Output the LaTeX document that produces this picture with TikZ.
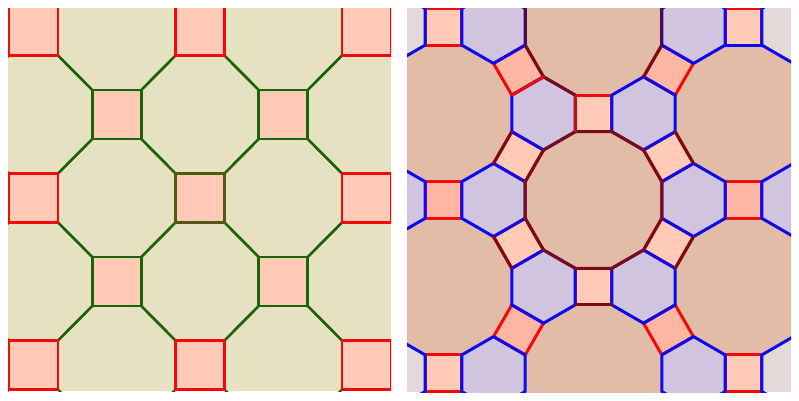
\documentclass[tikz,border=0pt]{standalone}
\usepackage{tikz}
\definecolor{beigeC}{HTML}{E5E1C1}
\definecolor{sqC}{HTML}{FFCAB6}
\definecolor{sqD}{HTML}{FFB6A3}
\definecolor{dodC}{HTML}{E2BCA6}
\definecolor{hexC}{HTML}{D0C4DE}
\definecolor{bgC}{HTML}{E3D9D9}
\definecolor{grn}{HTML}{1A640A}
\definecolor{olv}{HTML}{4E5A10}
\definecolor{redC}{HTML}{F00A0A}
\definecolor{bluC}{HTML}{0A0AF0}
\definecolor{marC}{HTML}{7A0A14}
\definecolor{purC}{HTML}{4A0A4A}
\newcommand{\mydod}[3][]{\path[#1,shift={(#2,#3)}] (15:70.71) \foreach \k in {1,...,11}{ -- ({15+30*\k}:70.71)} -- cycle;}
\newcommand{\myhex}[3][]{\path[#1,shift={(#2,#3)}] (30:36.6) \foreach \k in {1,...,5}{ -- ({30+60*\k}:36.6)} -- cycle;}
\newcommand{\mysq}[4][]{\path[#1,shift={(#2,#3)}] (#4:25.88) -- ({#4+90}:25.88) -- ({#4+180}:25.88) -- ({#4+270}:25.88) -- cycle;}
\tikzset{
  diagline/.style={draw=grn,line width=2.4pt},
  sqline/.style={draw=redC,line width=3pt,line join=round},
  hexline/.style={draw=bluC,line width=3pt,line join=round},
  marline/.style={draw=marC,line width=3pt,line join=round,line cap=round},
  ovr/.style={line width=3pt,line cap=round}
}
\begin{document}
\begin{tikzpicture}[x=1pt,y=-1pt]
\useasboundingbox (0,0) rectangle (799,400);
\fill[white] (0,0) rectangle (799,400);
% ---------------- left panel: 4.8.8 ----------------
\begin{scope}
\clip (8,8) rectangle (391,391);
\fill[beigeC] (8,8) rectangle (391,391);
\foreach \i/\j in {0/0,2/0,4/0,1/1,3/1,0/2,2/2,4/2,1/3,3/3,0/4,2/4,4/4}{
  \pgfmathsetmacro\cx{33.5+83.25*\i}
  \pgfmathsetmacro\cy{31+83.5*\j}
  \draw[diagline] (\cx+24.5,\cy+24.5) -- ++(34.25,34.5);
  \draw[diagline] (\cx-24.5,\cy+24.5) -- ++(-34.25,34.5);
  \draw[diagline] (\cx+24.5,\cy-24.5) -- ++(34.25,-34.5);
  \draw[diagline] (\cx-24.5,\cy-24.5) -- ++(-34.25,-34.5);
}
\foreach \i/\j/\c in {0/0/redC,2/0/redC,4/0/redC,0/2/redC,4/2/redC,0/4/redC,2/4/redC,4/4/redC,1/1/grn,3/1/grn,1/3/grn,3/3/grn,2/2/olv}{
  \pgfmathsetmacro\cx{33.5+83.25*\i}
  \pgfmathsetmacro\cy{31+83.5*\j}
  \filldraw[fill=sqC,draw=\c,line width=2.7pt] (\cx-24.5,\cy-24.5) rectangle (\cx+24.5,\cy+24.5);
}
\end{scope}
% ---------------- right panel: 4.6.12 ----------------
\begin{scope}
\clip (407,8) rectangle (791,392);
\fill[bgC] (407,8) rectangle (791,392);
% fills
\foreach \x/\y in {593.5/200,593.5/26.8,593.5/373.2,743.5/113.4,743.5/286.6,443.5/113.4,443.5/286.6}{\mydod[fill=dodC]{\x}{\y}}
\foreach \x/\y in {493.5/26.8,693.5/26.8,543.5/113.4,643.5/113.4,393.5/200,493.5/200,693.5/200,793.5/200,543.5/286.6,643.5/286.6,493.5/373.2,693.5/373.2}{\myhex[fill=hexC]{\x}{\y}}
\foreach \x/\y/\a in {593.5/113.4/45,593.5/286.6/45,443.5/26.8/45,743.5/26.8/45,443.5/373.2/45,743.5/373.2/45,668.5/156.7/15,518.5/156.7/75,668.5/243.3/75,518.5/243.3/15}{\mysq[fill=sqC]{\x}{\y}{\a}}
\foreach \x/\y/\a in {743.5/200/45,443.5/200/45,668.5/70.1/75,518.5/70.1/15,668.5/329.9/15,518.5/329.9/75}{\mysq[fill=sqD]{\x}{\y}{\a}}
% square outlines
\foreach \x/\y/\a in {593.5/113.4/45,593.5/286.6/45,443.5/26.8/45,743.5/26.8/45,443.5/373.2/45,743.5/373.2/45,668.5/156.7/15,518.5/156.7/75,668.5/243.3/75,518.5/243.3/15,743.5/200/45,443.5/200/45,668.5/70.1/75,518.5/70.1/15,668.5/329.9/15,518.5/329.9/75}{\mysq[sqline]{\x}{\y}{\a}}
% hexagon outlines
\foreach \x/\y in {493.5/26.8,693.5/26.8,543.5/113.4,643.5/113.4,393.5/200,493.5/200,693.5/200,793.5/200,543.5/286.6,643.5/286.6,493.5/373.2,693.5/373.2,393.5/26.8,793.5/26.8,393.5/373.2,793.5/373.2}{\myhex[hexline]{\x}{\y}}
% central dodecagon
\mydod[marline]{593.5}{200}
% individual edges
\draw[ovr,marC] (511.8,131.7) -- (493.5,163.4);
\draw[ovr,marC] (511.8,268.3) -- (493.5,236.6);
\draw[ovr,marC] (675.2,131.7) -- (693.5,163.4);
\draw[ovr,marC] (675.2,268.3) -- (693.5,236.6);
\draw[ovr,marC] (525.2,45.1) -- (543.5,76.8);
\draw[ovr,marC] (661.8,45.1) -- (643.5,76.8);
\draw[ovr,marC] (575.2,304.9) -- (611.8,304.9);
\draw[ovr,marC] (543.5,76.8) -- (575.2,95.1);
\draw[ovr,purC] (525.2,5) -- (525.2,45.1);
\draw[ovr,purC] (661.8,5) -- (661.8,45.1);
\draw[ovr,redC] (543.5,76.8) -- (511.8,95.1);
\draw[ovr,redC!85!black] (575.2,95.1) -- (575.2,131.7);
\draw[ovr,bluC] (725.2,45.1) -- (761.8,45.1);
\end{scope}
\end{tikzpicture}
\end{document}
